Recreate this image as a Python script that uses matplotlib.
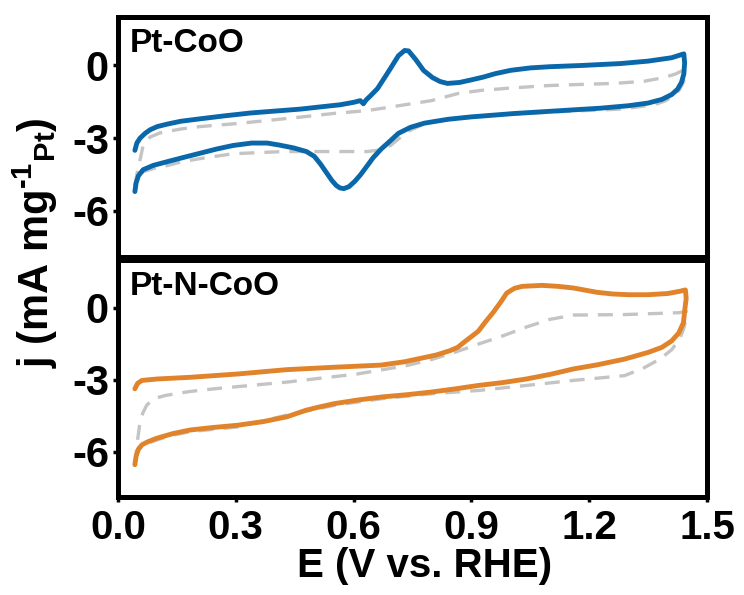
import matplotlib
matplotlib.use("Agg")
import matplotlib.pyplot as plt

# ── Data (E in V vs. RHE, j in mA mg-1 Pt) ────────────────────────────────────
# Pt-CoO, solid blue loop (forward scan then reverse scan)
coo_E = [0.043, 0.048, 0.056, 0.069, 0.082, 0.100, 0.125, 0.160, 0.209, 0.270,
         0.337, 0.400, 0.464, 0.520, 0.566, 0.600, 0.617, 0.625, 0.632, 0.643,
         0.661, 0.681, 0.694, 0.714, 0.730, 0.740, 0.758, 0.778, 0.801, 0.820,
         0.839, 0.870, 0.898, 0.930, 0.960, 1.000, 1.050, 1.100, 1.180, 1.280,
         1.350, 1.410, 1.441,
         1.443, 1.441, 1.435, 1.425, 1.410, 1.385, 1.350, 1.300, 1.230, 1.150,
         1.010, 0.900, 0.840, 0.780, 0.745, 0.714, 0.694, 0.670, 0.650, 0.635,
         0.618, 0.603, 0.588, 0.575, 0.565, 0.556, 0.545, 0.530, 0.515, 0.500,
         0.480, 0.447, 0.410, 0.380, 0.340, 0.293, 0.250, 0.209, 0.165, 0.125,
         0.090, 0.064, 0.052, 0.046, 0.043]
coo_j = [-3.5, -3.2, -3.0, -2.8, -2.65, -2.52, -2.42, -2.3, -2.2, -2.08,
         -1.96, -1.88, -1.8, -1.7, -1.62, -1.52, -1.45, -1.58, -1.42, -1.25,
         -0.95, -0.45, -0.12, 0.4, 0.62, 0.6, 0.25, -0.2, -0.5, -0.66,
         -0.74, -0.7, -0.6, -0.48, -0.34, -0.2, -0.1, -0.05, 0.0, 0.08,
         0.18, 0.32, 0.48,
         0.1, -0.35, -0.7, -0.98, -1.2, -1.4, -1.55, -1.66, -1.76, -1.84,
         -1.98, -2.12, -2.22, -2.38, -2.55, -2.8, -3.1, -3.45, -3.8, -4.13,
         -4.5, -4.78, -5.0, -5.08, -5.05, -4.95, -4.75, -4.4, -4.05, -3.75,
         -3.55, -3.4, -3.28, -3.2, -3.2, -3.3, -3.45, -3.62, -3.8, -3.97,
         -4.12, -4.3, -4.55, -4.85, -5.2]

# Pt-CoO, dashed grey reference loop
coo_ref_E = [0.043, 0.048, 0.056, 0.064, 0.082, 0.107, 0.160, 0.209, 0.300, 0.380,
             0.470, 0.548, 0.635, 0.719, 0.798, 0.865, 0.923, 1.000, 1.094, 1.180,
             1.263, 1.340, 1.390, 1.420, 1.439,
             1.441, 1.430, 1.416, 1.395, 1.375, 1.330, 1.280, 1.100, 0.900, 0.840,
             0.780, 0.737, 0.694, 0.660, 0.635, 0.548, 0.421, 0.293, 0.209, 0.160,
             0.125, 0.090, 0.064, 0.048, 0.043]
coo_ref_j = [-4.96, -4.5, -3.9, -3.3, -2.95, -2.78, -2.62, -2.52, -2.4, -2.27,
             -2.12, -1.98, -1.86, -1.65, -1.45, -1.16, -1.03, -0.93, -0.83, -0.78,
             -0.74, -0.65, -0.5, -0.35, -0.2,
             -0.66, -1.0, -1.24, -1.45, -1.57, -1.7, -1.8, -1.92, -2.1, -2.22,
             -2.4, -2.73, -3.3, -3.5, -3.55, -3.55, -3.55, -3.64, -3.84, -3.98,
             -4.13, -4.25, -4.38, -4.75, -4.96]

# Pt-N-CoO, solid orange loop
nco_E = [0.043, 0.050, 0.061, 0.100, 0.184, 0.306, 0.430, 0.550, 0.670, 0.730,
         0.770, 0.810, 0.845, 0.865, 0.880, 0.900, 0.918, 0.935, 0.955, 0.975,
         0.990, 1.010, 1.030, 1.080, 1.120, 1.160, 1.220, 1.260, 1.300, 1.350,
         1.400, 1.430, 1.445,
         1.447, 1.444, 1.440, 1.428, 1.410, 1.385, 1.350, 1.290, 1.220, 1.160,
         1.100, 1.040, 0.980, 0.918, 0.860, 0.796, 0.740, 0.673, 0.610, 0.551,
         0.510, 0.478, 0.430, 0.370, 0.306, 0.240, 0.184, 0.140, 0.098, 0.075,
         0.061, 0.052, 0.046, 0.043]
nco_j = [-3.38, -3.15, -3.03, -2.97, -2.9, -2.76, -2.58, -2.48, -2.39, -2.25,
         -2.11, -1.97, -1.79, -1.65, -1.45, -1.2, -0.97, -0.6, -0.2, 0.25,
         0.62, 0.82, 0.9, 0.94, 0.9, 0.83, 0.65, 0.58, 0.55, 0.55,
         0.6, 0.69, 0.75,
         0.4, 0.0, -0.62, -1.05, -1.38, -1.65, -1.86, -2.14, -2.38, -2.55,
         -2.78, -2.97, -3.12, -3.24, -3.38, -3.52, -3.62, -3.72, -3.85, -4.0,
         -4.15, -4.28, -4.55, -4.75, -4.9, -5.0, -5.1, -5.25, -5.45, -5.6,
         -5.72, -5.9, -6.2, -6.55]

# Pt-N-CoO, dashed grey reference loop
nco_ref_E = [0.043, 0.050, 0.055, 0.063, 0.073, 0.090, 0.120, 0.180, 0.245, 0.430,
             0.610, 0.735, 0.800, 0.857, 0.920, 0.980, 1.040, 1.100, 1.160, 1.290,
             1.430, 1.447,
             1.447, 1.440, 1.430, 1.410, 1.380, 1.340, 1.290, 1.160, 1.040, 0.918,
             0.796, 0.673, 0.551, 0.430, 0.306, 0.184, 0.130, 0.086, 0.060, 0.049,
             0.043]
nco_ref_j = [-6.55, -5.5, -4.9, -4.4, -4.07, -3.8, -3.66, -3.5, -3.38, -3.1,
             -2.76, -2.41, -2.15, -1.86, -1.5, -1.17, -0.8, -0.48, -0.3, -0.28,
             -0.2, -0.14,
             -0.48, -0.9, -1.31, -1.75, -2.14, -2.5, -2.83, -3.03, -3.24, -3.45,
             -3.59, -3.79, -4.07, -4.48, -4.97, -5.17, -5.35, -5.59, -5.8, -6.0,
             -6.55]

panel_names = ["Pt-CoO", "Pt-N-CoO"]
x_ticks = [0.0, 0.3, 0.6, 0.9, 1.2, 1.5]
y_ticks = [0, -3, -6]

# ── Style ─────────────────────────────────────────────────────────────────────
plt.rcParams["font.family"] = ["Liberation Sans", "DejaVu Sans"]
plt.rcParams["font.weight"] = "bold"
plt.rcParams["mathtext.fontset"] = "custom"
plt.rcParams["mathtext.bf"] = "Liberation Sans:bold"
plt.rcParams["mathtext.rm"] = "Liberation Sans:bold"

blue = "#0a68aa"
orange = "#e0832b"
grey = "#c4c4c4"

fig = plt.figure(figsize=(7.44, 5.95), dpi=100)
W, H = 744, 595
left, right = 118, 707
ax_top = fig.add_axes([left / W, 1 - 257 / H, (right - left) / W, 240 / H])
ax_bot = fig.add_axes([left / W, 1 - 497 / H, (right - left) / W, 237 / H])

curves = [(coo_E, coo_j, coo_ref_E, coo_ref_j, blue),
          (nco_E, nco_j, nco_ref_E, nco_ref_j, orange)]

for ax, (E, j, rE, rj, col), name in zip([ax_top, ax_bot], curves, panel_names):
    ax.plot(rE, rj, color=grey, lw=2.4, ls=(0, (4.5, 3)), zorder=2)
    ax.plot(E, j, color=col, lw=3.5, zorder=3,
            solid_joinstyle="round", solid_capstyle="round")
    ax.set_xlim(0, 1.5)
    ax.set_ylim(-7.9, 2.0)
    ax.set_yticks(y_ticks)
    ax.set_yticklabels([str(v) for v in y_ticks], fontsize=30, fontweight="bold")
    for s in ax.spines.values():
        s.set_linewidth(3.6)
    ax.tick_params(axis="both", direction="out", length=3.5, width=2.5, pad=3)
    ax.text(0.02, 0.955, name, transform=ax.transAxes, ha="left", va="top",
            fontsize=24, fontweight="bold")

ax_top.set_xticks([])
ax_bot.set_xticks(x_ticks)
ax_bot.set_xticklabels([f"{v:.1f}" for v in x_ticks], fontsize=29, fontweight="bold")
ax_bot.tick_params(axis="x", pad=5)

fig.text(425 / W, 1 - 566 / H, "E (V vs. RHE)", ha="center", va="center",
         fontsize=29, fontweight="bold")
fig.text(35 / W, 1 - 243 / H, r"j (mA mg$^{\text{-1}}$$_{\text{Pt}}$)",
         ha="center", va="center", rotation=90, fontsize=30, fontweight="bold")

fig.savefig("out.png", dpi=100)
